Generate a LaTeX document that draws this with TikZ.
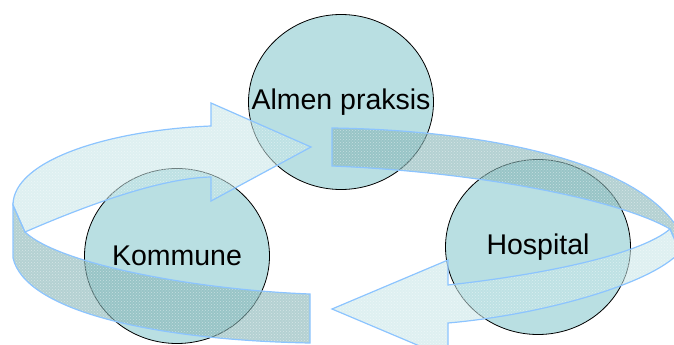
\documentclass[tikz,border=0pt]{standalone}
\usepackage{fontspec}
\setmainfont{Liberation Sans}
\usetikzlibrary{shapes.geometric,patterns}
\definecolor{stagefill}{RGB}{185,223,226}
\definecolor{ribbonline}{RGB}{140,196,255}
\definecolor{facefill}{RGB}{195,228,230}
\definecolor{rearfill}{RGB}{130,178,180}
\begin{document}
\begin{tikzpicture}[x=1pt,y=-1pt]

    \tikzset{
      stage/.style={
        draw=black,
        line width=0.8pt,
        fill=stagefill,
        ellipse,
        inner sep=0pt,
        minimum width=185pt,
        minimum height=175pt,
      },
      tag/.style={
        font=\fontsize{28.5}{34}\selectfont,
        inner sep=0pt,
      },
      grain/.style={
        pattern=crosshatch dots,
        pattern color=white,
        fill opacity=0.45,
      },
      rim/.style={
        draw=ribbonline,
        draw opacity=1,
        line width=1.2pt,
      },
      face/.style={
        fill=facefill,
        fill opacity=0.55,
        postaction={grain},
        postaction={rim},
      },
      rear/.style={
        fill=rearfill,
        fill opacity=0.6,
        postaction={grain},
        postaction={rim},
      },
    }
    \useasboundingbox (0,0) rectangle (674,345);
    \clip (0,0) rectangle (674,345);
	\node[stage] (almen) at (341,102) {};
	\node[stage] (kommune) at (177,256) {};
	\node[stage] (hospital) at (538,247) {};
	% back of the two ribbons
	\path[rear] (13,205)--(13,258) .. controls (25,310) and (150,340) .. (310,343)--(310,294) .. controls (200,290) and (60,265) .. (25,232)--cycle;
	\path[rear] (332,128) .. controls (480,130) and (640,160) .. (680,232)--(680,252)--(670,229) .. controls (620,200) and (480,172) .. (332,166)--cycle;
	% front of the two ribbons, with the heads
	\path[face] (13,205) .. controls (13,160) and (110,130) .. (211,126)--(211,103)--(311,147)--(211,201)--(211,177) .. controls (160,178) and (85,206) .. (25,232)--cycle;
	\path[face] (680,252) .. controls (650,285) and (540,315) .. (448,323)--(448,358)--(332,309)--(448,260)--(448,285) .. controls (540,275) and (640,255) .. (670,229)--cycle;
	\node[tag] (almen-text) at (almen) {Almen praksis};
	\node[tag] (kommune-text) at (kommune) {Kommune};
	\node[tag] (hospital-text) at (hospital) {Hospital};

\end{tikzpicture}
\end{document}
